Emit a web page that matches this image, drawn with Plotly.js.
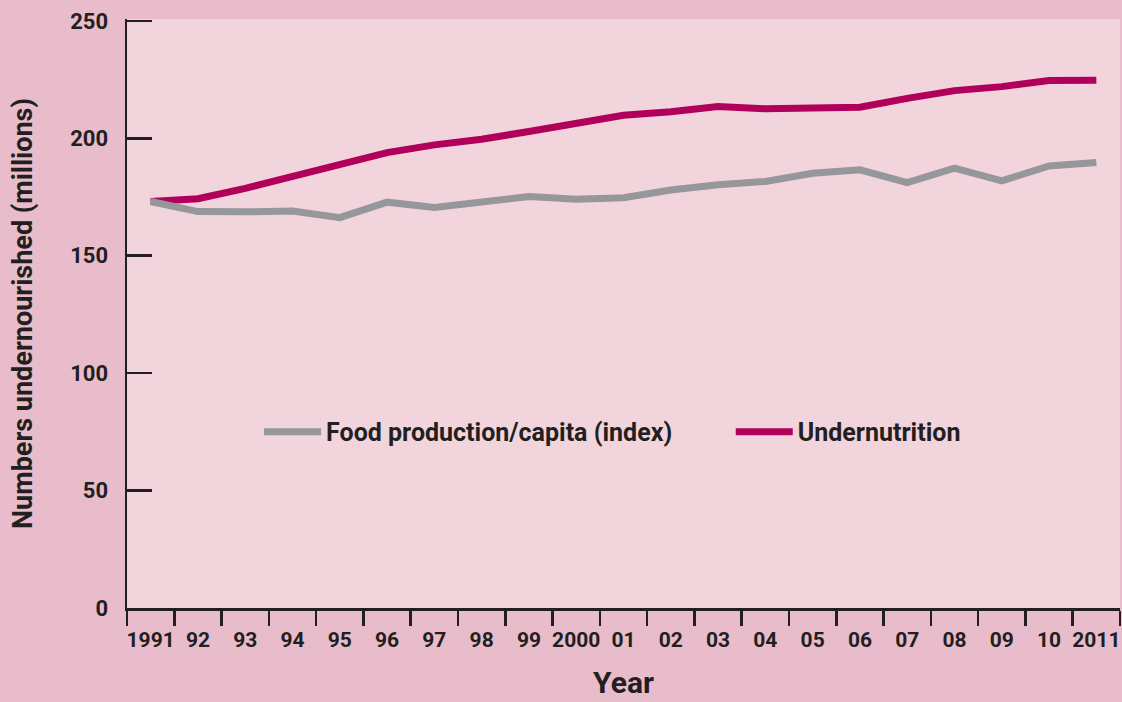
<!DOCTYPE html>
<html>
<head>
<meta charset="utf-8">
<script src="https://cdn.plot.ly/plotly-3.0.1.min.js"></script>
<style>html,body{margin:0;padding:0;background:#e8bccb;}#chart{width:1122px;height:702px;}</style>
</head>
<body>
<div id="chart"></div>
<script>
var years = [1991,1992,1993,1994,1995,1996,1997,1998,1999,2000,2001,2002,2003,2004,2005,2006,2007,2008,2009,2010,2011];
var yearLabels = ['1991','92','93','94','95','96','97','98','99','2000','01','02','03','04','05','06','07','08','09','10','2011'];
var undernutrition = [173.1,174.3,178.7,184.0,189.0,193.9,197.2,199.6,202.9,206.2,209.8,211.3,213.5,212.6,212.6,213.2,217.0,220.3,222.0,224.6,224.7];
var foodProduction = [173.1,168.8,168.7,169.0,166.2,172.8,170.5,172.6,175.2,174.1,174.7,178.0,180.2,181.6,185.1,186.6,181.1,187.3,181.9,188.2,189.7];
var yTicks = [0,50,100,150,200,250];

var ink = '#231f20';
var font = 'Roboto, "Liberation Sans", sans-serif';

var traces = [
  {x: years, y: undernutrition, name: 'Undernutrition', type: 'scatter', mode: 'lines',
   line: {color: '#b0005b', width: 7}, legend: 'legend2'},
  {x: years, y: foodProduction, name: 'Food production/capita (index)', type: 'scatter', mode: 'lines',
   line: {color: '#95979a', width: 7}, legend: 'legend'}
];

var legendFont = {family: font, size: 25, color: ink, weight: 'bold'};

var layout = {
  width: 1122, height: 702,
  paper_bgcolor: '#e8bccb',
  plot_bgcolor: '#f2d4dd',
  margin: {l: 127, r: 2, t: 19, b: 94},
  font: {family: font, color: ink, size: 22},
  showlegend: true,
  legend: {
    orientation: 'h',
    x: 0.133, xanchor: 'left', y: 0.299, yanchor: 'middle',
    bgcolor: 'rgba(0,0,0,0)', font: legendFont, itemwidth: 57
  },
  legend2: {
    orientation: 'h',
    x: 0.608, xanchor: 'left', y: 0.299, yanchor: 'middle',
    bgcolor: 'rgba(0,0,0,0)', font: legendFont, itemwidth: 57
  },
  xaxis: {
    range: [1990.5, 2011.5],
    tickmode: 'array', tickvals: years, ticktext: yearLabels,
    ticks: '', showgrid: false, zeroline: false,
    showline: true, linecolor: ink, linewidth: 2.5,
    tickfont: {family: font, size: 21, color: ink, weight: 'bold'},
    ticklabelstandoff: 11,
    minor: {tickmode: 'linear', tick0: 1990.5, dtick: 1, ticks: 'outside', ticklen: 15, tickwidth: 2.5, tickcolor: ink, showgrid: false},
    title: {text: 'Year', font: {family: font, size: 30, color: ink, weight: 'bold'}, standoff: 22}
  },
  yaxis: {
    range: [0, 250.8],
    tickmode: 'array', tickvals: yTicks,
    ticks: 'inside', ticklen: 25, tickwidth: 2.5, tickcolor: ink,
    showgrid: false, zeroline: false,
    showline: true, linecolor: ink, linewidth: 2.5,
    tickfont: {family: font, size: 22, color: ink, weight: 'bold'},
    ticklabelstandoff: 12,
    title: {text: 'Numbers undernourished (millions)', font: {family: font, size: 27, color: ink, weight: 'bold'}, standoff: 30}
  }
};

Plotly.newPlot('chart', traces, layout, {displayModeBar: false, staticPlot: true});
</script>
</body>
</html>
